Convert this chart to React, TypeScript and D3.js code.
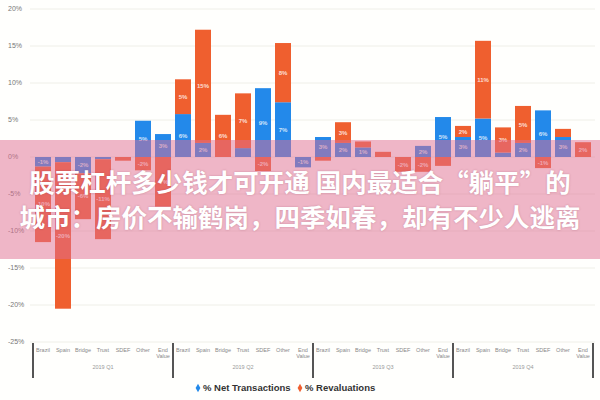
import React from 'react';
import * as d3 from 'd3';

// quarters and categories on the x axis
const quarters = ['2019 Q1', '2019 Q2', '2019 Q3', '2019 Q4'];
const categories = ['Brazil', 'Spain', 'Bridge', 'Trust', 'SDEF', 'Other', 'End|Value'];

// % Net Transactions (blue), 7 per quarter
const netTransactions = [
  -1.3, -0.7, -2.2, -0.3, 0, 4.9, 3.1,
  5.8, 1.9, 0, 1.2, 9.3, 7.4, -1.4,
  2.7, 1.9, 1.3, 0, 0, 1.5, 5.4,
  2.7, 5.2, 0.6, 1.9, 6.3, 2.7, 0,
];

// % Revaluations (orange)
const revaluations = [
  -10.2, -19.8, -6.2, -10.8, -0.5, -1.8, -6.7,
  4.7, 15.3, 5.7, 7.4, -1.9, 8.0, 0,
  -0.5, 2.8, 0.8, 0.7, -2.0, -2.0, -1.2,
  1.5, 10.5, 3.4, 5.0, -1.5, 1.1, 2.0,
];

const yTicks = [20, 15, 10, 5, 0, -5, -10, -15, -20, -25];

const headline = [
  '股票杠杆多少钱才可开通 国内最适合“躺平”的',
  '城市：房价不输鹤岗，四季如春，却有不少人逃离',
];

const seriesNames = ['% Net Transactions', '% Revaluations'];
const seriesColors = ['#2389ea', '#ef5f2f'];

export default function App() {
  const width = 600;
  const height = 400;
  const left = 33;
  const right = 593;

  const keys = quarters.flatMap(q => categories.map(c => `${q}|${c}`));
  const rows = keys.map((k, i) => ({ key: k, net: netTransactions[i], rev: revaluations[i] }));

  const x = d3.scaleBand<string>().domain(keys).range([left, right]).paddingInner(0.2).paddingOuter(0.1);
  const y = d3.scaleLinear().domain([-25, 20]).range([342, 9]);
  const xq = d3.scaleBand<string>().domain(quarters).range([left, right]);

  const stack = d3.stack<any>().keys(['net', 'rev']).offset(d3.stackOffsetDiverging);
  const layers = stack(rows);

  return (
    <div style={{ position: 'fixed', left: 0, top: 0 }}>
      <svg width={width} height={height} style={{ display: 'block', background: '#fffffd' }}
        fontFamily="'Liberation Sans', Arial, sans-serif">
        {/* grid + y labels */}
        {yTicks.map(t => (
          <g key={t}>
            <line x1={30} x2={595} y1={y(t)} y2={y(t)} stroke="#efefe8" strokeWidth={1} />
            <text x={8} y={y(t)} dy="0.35em" fontSize={7} fill="#777">{`${t}%`}</text>
          </g>
        ))}

        {/* bars */}
        {layers.map((layer, li) => (
          <g key={layer.key} fill={seriesColors[li]}>
            {layer.map((d, i) => {
              const v = d[1] - d[0];
              if (Math.abs(v) < 0.01) return null;
              const y0 = y(Math.max(d[0], d[1]));
              const h = Math.abs(y(d[0]) - y(d[1]));
              const key = keys[i];
              const val = li === 0 ? netTransactions[i] : revaluations[i];
              return (
                <g key={key}>
                  <rect x={x(key)} y={y0} width={x.bandwidth()} height={h} />
                  {h > 9 && (
                    <text x={x(key)! + x.bandwidth() / 2} y={y0 + h / 2} dy="0.35em" textAnchor="middle"
                      fontSize={6} fontWeight="bold" fill="#fff" fillOpacity={0.8}>
                      {`${Math.round(val)}%`}
                    </text>
                  )}
                </g>
              );
            })}
          </g>
        ))}

        {/* x axis */}
        {keys.map(k => {
          const parts = k.split('|').slice(1);
          const cx = x(k)! + x.bandwidth() / 2;
          return (
            <text key={k} x={cx} y={352} textAnchor="middle" fontSize={5.5} fill="#888">
              {parts.map((p, i) => (
                <tspan key={i} x={cx} dy={i === 0 ? 0 : 6}>{p}</tspan>
              ))}
            </text>
          );
        })}
        {quarters.map(q => (
          <text key={q} x={xq(q)! + xq.bandwidth() / 2} y={369} textAnchor="middle" fontSize={5.5} fill="#999">{q}</text>
        ))}
        {[...quarters.map(q => xq(q)!), right].map((sx, i) => (
          <line key={i} x1={sx} x2={sx} y1={343} y2={378} stroke="#555" strokeWidth={2} />
        ))}

        {/* legend */}
        <g transform="translate(196,391)">
          <path d={d3.symbol(d3.symbolDiamond, 20)()!} fill={seriesColors[0]} transform="translate(2,-3)" />
          <text x={7} y={0} fontSize={9.5} fontWeight="bold" fill="#333">{seriesNames[0]}</text>
          <path d={d3.symbol(d3.symbolDiamond, 20)()!} fill={seriesColors[1]} transform="translate(104,-3)" />
          <text x={109} y={0} fontSize={9.5} fontWeight="bold" fill="#333">{seriesNames[1]}</text>
        </g>

        {/* headline banner */}
        <rect x={0} y={140} width={width} height={119} fill="rgb(224,110,146)" fillOpacity={0.5} />
        {headline.map((line, i) => (
          <text key={i} x={300} y={183 + i * 35} dy="0.35em" textAnchor="middle" fontSize={25.5} fontWeight="bold"
            fill="#fff" fontFamily="'Noto Sans CJK SC', sans-serif"
            style={{ textShadow: '0 0 2px rgba(120,40,70,0.35)' }}>
            {line}
          </text>
        ))}
      </svg>
    </div>
  );
}
